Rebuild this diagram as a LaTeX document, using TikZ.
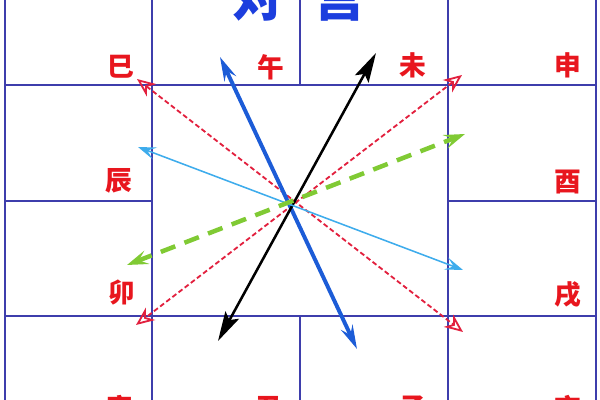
\documentclass[tikz,border=0pt]{standalone}
\usepackage{fontspec}
\newfontfamily\cjk{Noto Sans CJK SC}
\usepackage{tikz}
\usetikzlibrary{arrows.meta}

\definecolor{gridblue}{RGB}{62,62,172}
\definecolor{labelred}{RGB}{232,22,30}
\definecolor{titleblue}{RGB}{28,62,222}
\definecolor{axisblue}{RGB}{28,92,215}
\definecolor{skyblue}{RGB}{62,172,236}
\definecolor{grassgreen}{RGB}{128,202,52}
\definecolor{dashred}{RGB}{226,32,62}

\begin{document}
\begin{tikzpicture}[x=0.025cm,y=-0.025cm,
	cell/.style={draw=gridblue,line width=1.4pt},
	branch/.style={text=labelred,inner sep=0pt,font=\cjk\bfseries\fontsize{19}{19}\selectfont},
	heading/.style={text=titleblue,inner sep=0pt,font=\cjk\bfseries\fontsize{36}{36}\selectfont},
	wuzi/.style={draw=axisblue,line width=2.8pt,{Stealth[length=17pt,width=9pt,inset=6pt]}-{Stealth[length=17pt,width=9pt,inset=6pt]}},
	weichou/.style={draw=black,line width=1.8pt,{Stealth[length=21pt,width=11pt,inset=4pt]}-{Stealth[length=21pt,width=11pt,inset=4pt]}},
	chenxu/.style={draw=skyblue,line width=1.1pt,{Stealth[length=13pt,width=9pt,inset=6pt]}-{Stealth[length=13pt,width=9pt,inset=6pt]}},
	maoyou/.style={draw=grassgreen,line width=3.2pt,dash pattern=on 11pt off 7pt,{Stealth[length=15pt,width=10pt,inset=6pt]}-{Stealth[length=15pt,width=10pt,inset=6pt]}},
	diag/.style={draw=dashred,line width=1.3pt,dash pattern=on 3.5pt off 2pt,{Stealth[open,length=13pt,width=11pt,inset=4pt]}-{Stealth[open,length=13pt,width=11pt,inset=4pt]}}]
		\useasboundingbox (0,0) rectangle (600,400);
		\clip (0,0) rectangle (600,400);
%		\draw[help lines] (0,0) grid (600,400);
		% palace grid
		\draw[cell] (5,-10) -- (5,410);
		\draw[cell] (152,-10) -- (152,410);
		\draw[cell] (448,-10) -- (448,410);
		\draw[cell] (596,-10) -- (596,410);
		\draw[cell] (300,-10) -- (300,85);
		\draw[cell] (300,316) -- (300,410);
		\draw[cell] (5,85) -- (596,85);
		\draw[cell] (5,316) -- (596,316);
		\draw[cell] (5,201) -- (152,201);
		\draw[cell] (448,201) -- (596,201);

		\path (258,-3) node(dui) [heading] {对};
		\path (340,-3) node(gong) [heading] {宫};

		\path (121,67) node(si) [branch] {巳};
		\path (271,67) node(wu) [branch] {午};
		\path (413,65) node(wei) [branch] {未};
		\path (568,65) node(shen) [branch] {申};
		\path (119,181) node(chen) [branch] {辰};
		\path (568,182) node(you) [branch] {酉};
		\path (122,293) node(mao) [branch] {卯};
		\path (568,295) node(xu) [branch] {戌};
		\path (120,408) node(yin) [branch] {寅};
		\path (269,408) node(chou) [branch] {丑};
		\path (413,408) node(zi) [branch] {子};
		\path (568,408) node(hai) [branch] {亥};

		\path (137,79) coordinate (si_end);
		\path (463,332) coordinate (hai_end);
		\path (462,75) coordinate (shen_end);
		\path (136,325) coordinate (yin_end);
		\path (220,57) coordinate (wu_end);
		\path (357,349) coordinate (zi_end);
		\path (376,53) coordinate (wei_end);
		\path (218,341) coordinate (chou_end);
		\path (138,147) coordinate (chen_end);
		\path (463,270) coordinate (xu_end);
		\path (127,265) coordinate (mao_end);
		\path (465,134) coordinate (you_end);

		\draw[diag] (si_end) -- (hai_end);
		\draw[diag] (shen_end) -- (yin_end);
		\draw[wuzi] (wu_end) -- (zi_end);
		\draw[weichou] (wei_end) -- (chou_end);
		\draw[chenxu] (chen_end) -- (xu_end);
		\draw[maoyou] (mao_end) -- (you_end);
	\end{tikzpicture}
\end{document}
